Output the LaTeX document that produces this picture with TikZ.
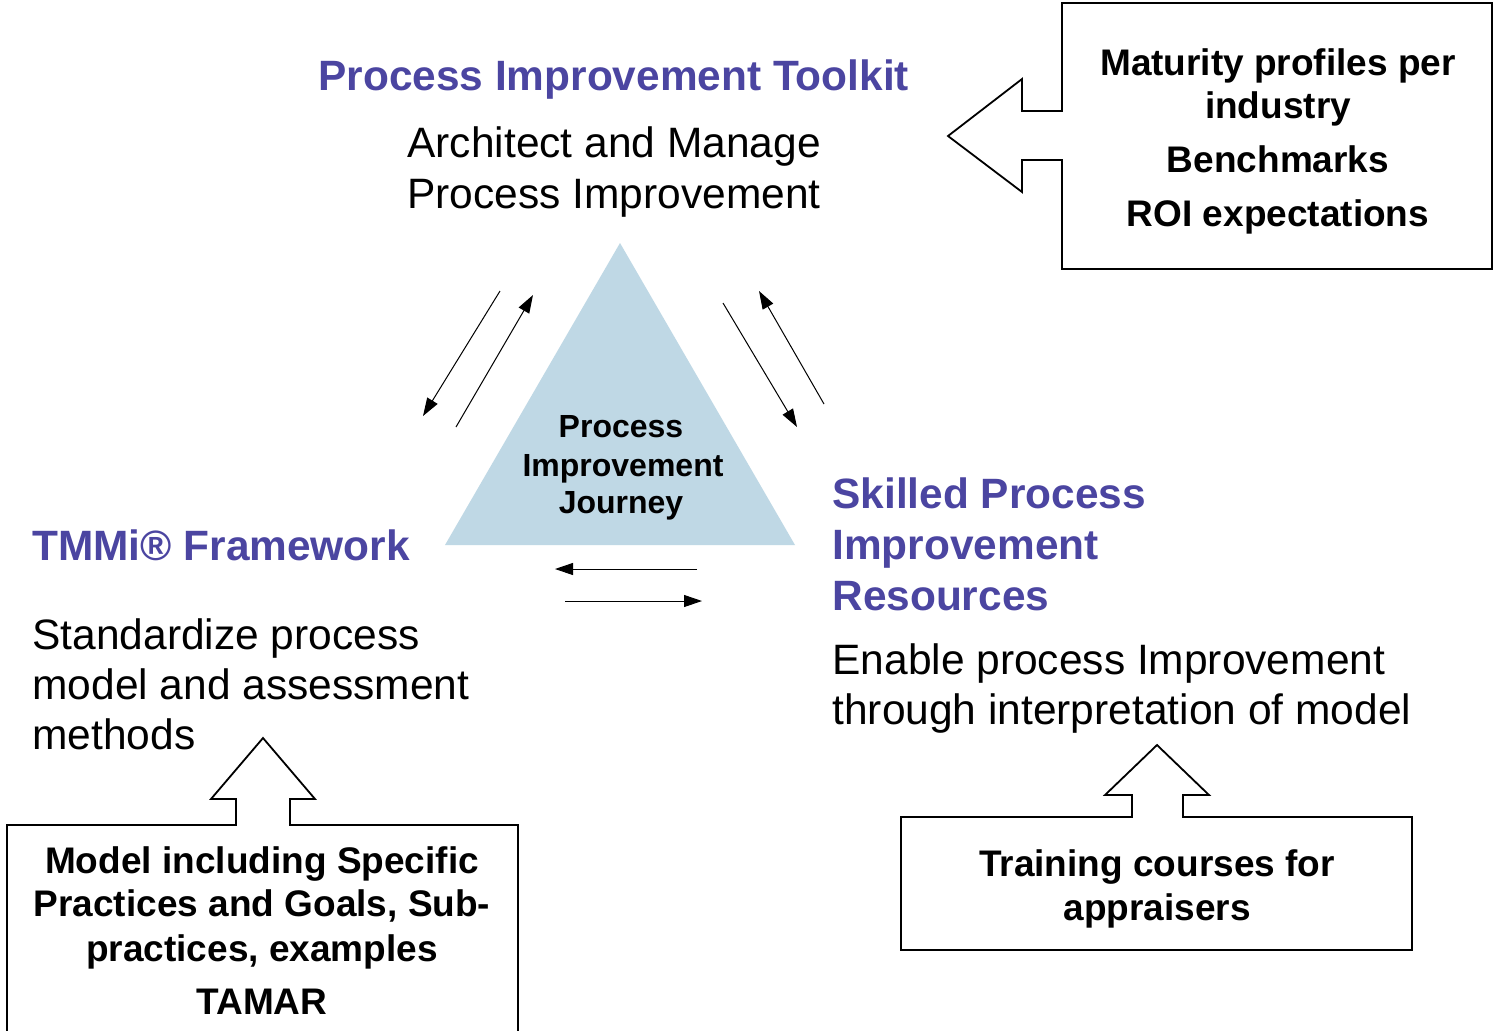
\documentclass[tikz,border=0pt]{standalone}
\usepackage{fontspec}
\setmainfont{Liberation Sans}
\usetikzlibrary{arrows.meta}
\definecolor{titlec}{RGB}{75,69,161}
\definecolor{trifill}{RGB}{191,216,229}
\tikzset{
  ttl/.style={font=\fontsize{21.2}{25}\selectfont\bfseries, text=titlec, inner sep=0pt, anchor=base west},
  body/.style={font=\fontsize{21.25}{25}\selectfont, inner sep=0pt, anchor=base west},
  boxt/.style={font=\fontsize{18.5}{22}\selectfont\bfseries, inner sep=0pt, anchor=base},
  trit/.style={font=\fontsize{16}{19}\selectfont\bfseries, inner sep=0pt, anchor=base},
  outline/.style={draw=black, line width=0.9pt, line join=miter},
  flow/.style={line width=0.5pt, -{Triangle[length=9pt,width=6pt]}}
}
\begin{document}
\begin{tikzpicture}[x=0.5pt,y=-0.5pt]
\useasboundingbox (0,0) rectangle (1493,1030);
\clip (0,0) rectangle (1493,1030);
\fill[white] (0,0) rectangle (1493,1030);

% central triangle
\fill[trifill] (620,243) -- (795,545) -- (445,545) -- cycle;
\node[trit] (j1) at (621,437) {Process};
\node[trit] (j2) at (623,476) {Improvement};
\node[trit] (j3) at (621,513) {Journey};

% top group
\node[ttl] (t1) at (318,90) {Process Improvement Toolkit};
\node[body] (a1) at (407,157) {Architect and Manage};
\node[body] (a2) at (407,208) {Process Improvement};

% left group
\node[ttl] (t2) at (32,560) {TMMi® Framework};
\node[body] (s1) at (32,649) {Standardize process};
\node[body] (s2) at (32,699) {model and assessment};
\node[body] (s3) at (32,749) {methods};

% right group
\node[ttl] (t3a) at (832,508) {Skilled Process};
\node[ttl] (t3b) at (832,559) {Improvement};
\node[ttl] (t3c) at (832,610) {Resources};
\node[body] (e1) at (832,674) {Enable process Improvement};
\node[body] (e2) at (832,724) {through interpretation of model};

% top-right callout box
\draw[outline] (1062,111) -- (1022,111) -- (1022,79) -- (948,136) -- (1022,192)
  -- (1022,160) -- (1062,160) -- (1062,269) -- (1492,269) -- (1492,3) -- (1062,3) -- cycle;
\node[boxt] (m1) at (1278,75) {Maturity profiles per};
\node[boxt] (m2) at (1278,118) {industry};
\node[boxt] (m3) at (1278,172) {Benchmarks};
\node[boxt] (m4) at (1278,226) {ROI expectations};

% bottom-left callout box
\draw[outline] (236,825) -- (236,799) -- (211,799) -- (263,738) -- (315,799)
  -- (290,799) -- (290,825) -- (518,825) -- (518,1045) -- (7,1045) -- (7,825) -- cycle;
\node[boxt] (b1) at (262,873) {Model including Specific};
\node[boxt] (b2) at (262,916) {Practices and Goals, Sub-};
\node[boxt] (b3) at (262,961) {practices, examples};
\node[boxt] (b4) at (262,1014) {TAMAR};

% bottom-right callout box
\draw[outline] (1132,817) -- (1132,795) -- (1105,795) -- (1157,745) -- (1209,795)
  -- (1183,795) -- (1183,817) -- (1412,817) -- (1412,950) -- (901,950) -- (901,817) -- cycle;
\node[boxt] (r1) at (1157,876) {Training courses for};
\node[boxt] (r2) at (1157,920) {appraisers};

% exchange arrows
\coordinate (la1) at (500,291);
\coordinate (la2) at (423,416);
\coordinate (lb1) at (456,427);
\coordinate (lb2) at (533,295);
\coordinate (ra1) at (723,303);
\coordinate (ra2) at (797,427);
\coordinate (rb1) at (824,404);
\coordinate (rb2) at (759,291);
\coordinate (ba1) at (697,569);
\coordinate (ba2) at (555,569);
\coordinate (bb1) at (565,601);
\coordinate (bb2) at (702,601);
\draw[flow] (la1) -- (la2);
\draw[flow] (lb1) -- (lb2);
\draw[flow] (ra1) -- (ra2);
\draw[flow] (rb1) -- (rb2);
\draw[flow] (ba1) -- (ba2);
\draw[flow] (bb1) -- (bb2);
\end{tikzpicture}
\end{document}
